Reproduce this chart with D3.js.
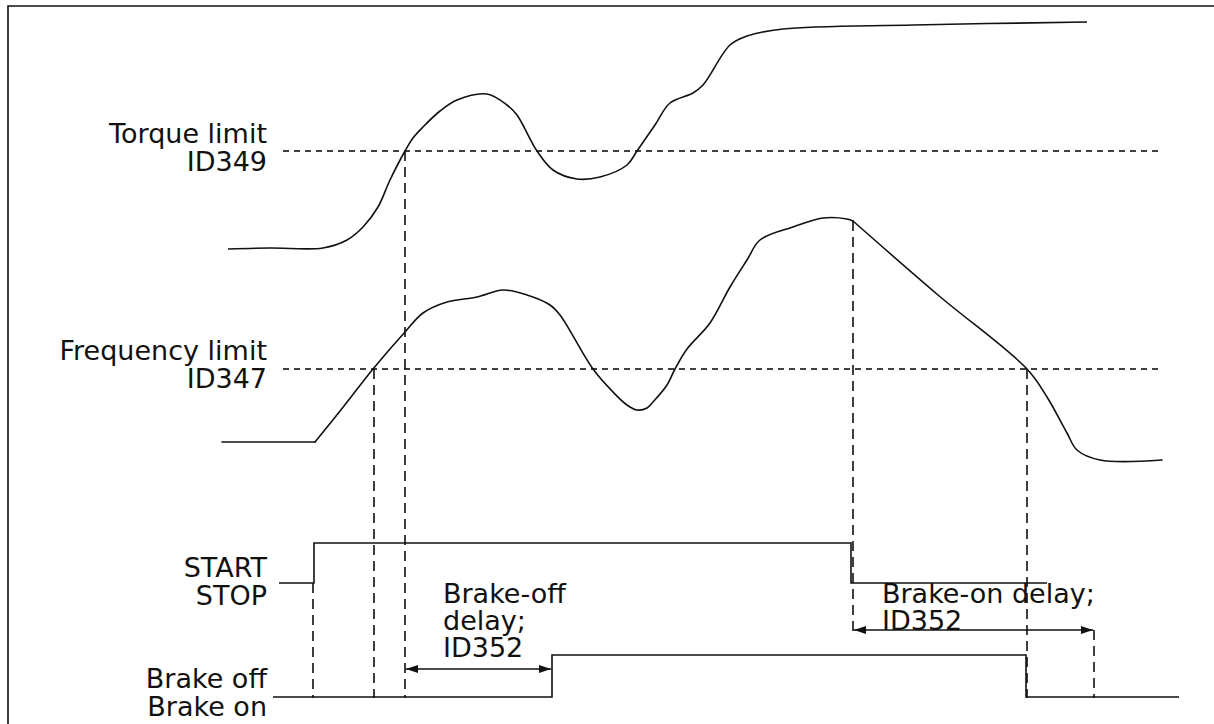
<!DOCTYPE html>
<html>
<head>
<meta charset="utf-8">
<script src="https://cdn.jsdelivr.net/npm/d3@7"></script>
<style>
  html, body { margin: 0; padding: 0; background: #fff; overflow: hidden; }
  svg { display: block; }
  text { font-family: "DejaVu Sans", Verdana, sans-serif; font-size: 27px; fill: #111; }
</style>
</head>
<body>
<svg id="chart" width="1214" height="724"></svg>
<script>
// Motor torque over time (t, value)
const torqueCurve = [
  [6, 1], [48, 2], [101, 2], [125, 10], [141, 23], [156, 43], [168, 70],
  [183, 99], [191, 112], [201, 123], [218, 139], [235, 150], [265, 156],
  [285, 145], [295, 135], [315, 99], [331, 80], [355, 71], [378, 73],
  [405, 85], [415, 99], [433, 125], [448, 147], [471, 157], [481, 165],
  [508, 205], [525, 214], [561, 221], [691, 225], [865, 228]
];
const torqueLimit = 99;          // ID349

// Output frequency over time (t, value)
const freqCurve = [
  [0, 23], [93, 23], [122, 59], [151, 96], [183, 133], [201, 152], [225, 163],
  [255, 168], [281, 175], [305, 170], [328, 160], [338, 150], [371, 96],
  [391, 73], [405, 60], [415, 55], [425, 57], [431, 63], [445, 80],
  [453, 96], [465, 116], [488, 142], [508, 178], [525, 205], [538, 225],
  [571, 238], [601, 247], [625, 246], [631, 244], [716, 170], [805, 96],
  [825, 68], [845, 32], [855, 15], [878, 5], [940, 5]
];
const freqCorners = [93, 631];   // ramp start and deceleration start
const freqLimit = 96;            // ID347

// Digital signals as step sequences (t, level)
const startStop = [[57, 0], [92, 0], [92, 1], [629, 1], [629, 0], [825, 0]];
const brakeState = [[51, 0], [330, 0], [330, 1], [804, 1], [804, 0], [957, 0]];

// Time events marked with vertical dashed guides
const guides = [
  { t: 91,  from: "start",  to: "brake" },
  { t: 152, from: "freq",   to: "brake" },
  { t: 183, from: "torque", to: "brake" },
  { t: 631, from: "peak",   to: "onArrow" },
  { t: 805, from: "freq",   to: "brake" },
  { t: 872, from: "onArrow", to: "brake" }
];

// Delay intervals
const brakeOffDelay = [183, 330];
const brakeOnDelay = [631, 872];

const rowLabels = [
  { lines: ["Torque limit", "ID349"], y: 143 },
  { lines: ["Frequency limit", "ID347"], y: 360 },
  { lines: ["START", "STOP"], y: 577 },
  { lines: ["Brake off", "Brake on"], y: 688 }
];

const svg = d3.select("#chart");

const x = d3.scaleLinear().domain([0, 960]).range([222, 1182]);
const yTorque = d3.scaleLinear().domain([0, 230]).range([250, 20]);
const yFreq = d3.scaleLinear().domain([0, 270]).range([465, 195]);
const yStart = d3.scaleLinear().domain([0, 1]).range([583, 543]);
const yBrake = d3.scaleLinear().domain([0, 1]).range([697, 655]);

const ink = "#111";

// outer frame (open to the right and bottom edges)
svg.append("path")
  .attr("d", "M8,730 V6 H1214")
  .attr("fill", "none").attr("stroke", ink).attr("stroke-width", 1.6);

// limit lines
[yTorque(torqueLimit), yFreq(freqLimit)].forEach(yy => {
  svg.append("line")
    .attr("x1", x(61)).attr("x2", x(938))
    .attr("y1", yy).attr("y2", yy)
    .attr("stroke", "#000").attr("stroke-width", 1.4).attr("stroke-dasharray", "6,5");
});

// vertical guides
const peakPt = freqCurve.find(d => d[0] === 631);
const levelY = {
  start: yStart(0),
  brake: yBrake(0),
  freq: yFreq(freqLimit),
  torque: yTorque(torqueLimit),
  peak: yFreq(peakPt[1]),
  onArrow: 630
};
svg.selectAll("line.guide").data(guides).join("line")
  .attr("class", "guide")
  .attr("x1", d => x(d.t)).attr("x2", d => x(d.t))
  .attr("y1", d => levelY[d.from]).attr("y2", d => levelY[d.to] + 1)
  .attr("stroke", "#000").attr("stroke-width", 1.5).attr("stroke-dasharray", "10,6");

// curves
const smooth = d3.curveCatmullRom.alpha(0.5);
svg.append("path")
  .datum(torqueCurve)
  .attr("d", d3.line().x(d => x(d[0])).y(d => yTorque(d[1])).curve(smooth))
  .attr("fill", "none").attr("stroke", ink).attr("stroke-width", 1.6);

// frequency drawn piecewise so the corners stay sharp
const cuts = [freqCurve[0][0], ...freqCorners, freqCurve[freqCurve.length - 1][0]];
const freqPieces = d3.pairs(cuts).map(([a, b]) => freqCurve.filter(d => d[0] >= a && d[0] <= b));
svg.selectAll("path.freq").data(freqPieces).join("path")
  .attr("class", "freq")
  .attr("d", d3.line().x(d => x(d[0])).y(d => yFreq(d[1])).curve(smooth))
  .attr("fill", "none").attr("stroke", ink).attr("stroke-width", 1.6)
  .attr("stroke-linejoin", "round").attr("stroke-linecap", "round");

// signals
[[startStop, yStart], [brakeState, yBrake]].forEach(([data, ys]) => {
  svg.append("path")
    .datum(data)
    .attr("d", d3.line().x(d => x(d[0])).y(d => ys(d[1])))
    .attr("fill", "none").attr("stroke", ink).attr("stroke-width", 1.6);
});

// arrow markers
const defs = svg.append("defs");
defs.append("marker")
  .attr("id", "head").attr("viewBox", "0 0 12 8")
  .attr("refX", 12).attr("refY", 4)
  .attr("markerWidth", 12).attr("markerHeight", 8)
  .attr("markerUnits", "userSpaceOnUse")
  .attr("orient", "auto-start-reverse")
  .append("path").attr("d", "M0,0 L12,4 L0,8 Z").attr("fill", ink);

function dimension(span, yPos) {
  svg.append("line")
    .attr("x1", x(span[0]) + 1).attr("x2", x(span[1]) - 1)
    .attr("y1", yPos).attr("y2", yPos)
    .attr("stroke", ink).attr("stroke-width", 1.5)
    .attr("marker-start", "url(#head)").attr("marker-end", "url(#head)");
}
dimension(brakeOffDelay, 669);
dimension(brakeOnDelay, 630);

// row labels
rowLabels.forEach(r => {
  const t = svg.append("text").attr("text-anchor", "end");
  r.lines.forEach((s, i) => {
    t.append("tspan").attr("x", 267).attr("y", r.y + i * 28).text(s);
  });
});

// delay annotations
const offNote = svg.append("text");
["Brake-off", "delay;", "ID352"].forEach((s, i) => {
  offNote.append("tspan").attr("x", 443).attr("y", 603 + i * 27).text(s);
});
const onNote = svg.append("text");
["Brake-on delay;", "ID352"].forEach((s, i) => {
  onNote.append("tspan").attr("x", 882).attr("y", 603 + i * 27).text(s);
});
</script>
</body>
</html>
